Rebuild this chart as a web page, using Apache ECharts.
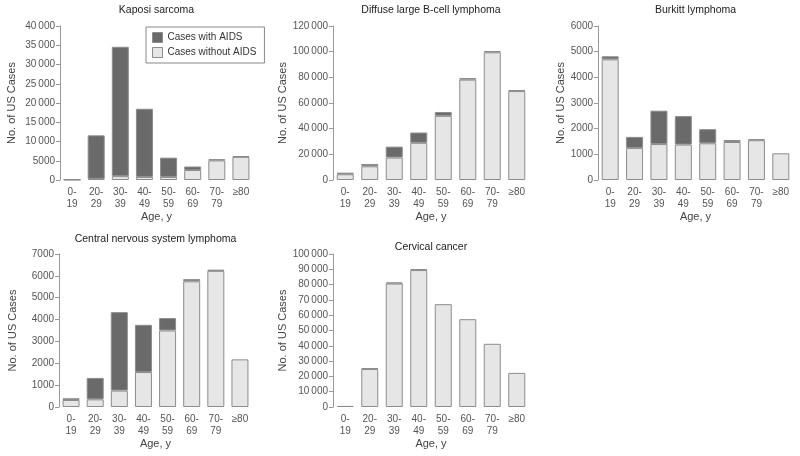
<!DOCTYPE html>
<html>
<head>
<meta charset="utf-8">
<script src="https://cdn.jsdelivr.net/npm/echarts@6/dist/echarts.min.js"></script>
<style>html,body{margin:0;padding:0;background:#fff}#c{width:800px;height:456px}</style>
</head>
<body>
<div id="c"></div>
<script>
const categories = ['0-\n19','20-\n29','30-\n39','40-\n49','50-\n59','60-\n69','70-\n79','≥80'];
const panelTitles = ['Kaposi sarcoma','Diffuse large B-cell lymphoma','Burkitt lymphoma','Central nervous system lymphoma','Cervical cancer'];
const seriesNames = ['Cases with AIDS','Cases without AIDS'];

const kaposiWithout = [50, 300, 1000, 800, 800, 2600, 5100, 6000];
const kaposiWith    = [150, 11300, 33600, 17700, 5000, 900, 300, 200];
const dlbclWithout  = [4500, 10700, 17500, 29000, 50000, 78200, 99500, 69300];
const dlbclWith     = [1200, 1800, 8500, 8000, 3000, 1200, 1000, 800];
const burkittWithout= [4700, 1250, 1400, 1380, 1430, 1480, 1550, 1040];
const burkittWith   = [120, 430, 1300, 1110, 550, 80, 40, null];
const cnsWithout    = [320, 350, 750, 1600, 3500, 5750, 6230, 2180];
const cnsWith       = [80, 980, 3590, 2160, 570, 100, 50, null];
const cervWithout   = [700, 24800, 80700, 89500, 67200, 57400, 41300, 22300];
const cervWith      = [null, 600, 700, 600, null, null, null, null];

const yMaxes = [40000, 120000, 6000, 7000, 100000];
const yIntervals = [5000, 20000, 1000, 1000, 10000];

const panels = [
  {without: kaposiWithout, with: kaposiWith},
  {without: dlbclWithout, with: dlbclWith},
  {without: burkittWithout, with: burkittWith},
  {without: cnsWithout, with: cnsWith},
  {without: cervWithout, with: cervWith}
];

const layout = [
  {left: 60, top: 26, width: 193, height: 154, nameGap: 43, titleTop: 5},
  {left: 333, top: 26, width: 196, height: 154, nameGap: 39, titleTop: 5},
  {left: 598, top: 26, width: 195, height: 154, nameGap: 27, titleTop: 5},
  {left: 59, top: 254, width: 193, height: 153, nameGap: 41, titleTop: 234},
  {left: 333, top: 254, width: 196, height: 153, nameGap: 39, titleTop: 242}
];

const FONT = '"Liberation Sans", Arial, sans-serif';
const DARK = '#6a6a6a', LIGHT = '#e6e6e6', BORDER = '#8c8c8c';

function fmt(v){
  if (v >= 10000) { const s = String(v); return s.slice(0, s.length-3) + '\u2009' + s.slice(-3); }
  return String(v);
}

const grid = [], xAxis = [], yAxis = [], series = [], title = [];
layout.forEach((L, i) => {
  grid.push({left: L.left, top: L.top, width: L.width, height: L.height});
  title.push({text: panelTitles[i], left: L.left + L.width/2, top: L.titleTop, textAlign: 'center', padding: 0,
    textStyle: {fontFamily: FONT, fontSize: 10.5, fontWeight: 'normal', color: '#222'}});
  xAxis.push({type: 'category', gridIndex: i, data: categories,
    name: 'Age, y', nameLocation: 'middle', nameGap: 31,
    nameTextStyle: {fontFamily: FONT, fontSize: 11, color: '#444'},
    axisLine: {show: false}, axisTick: {show: false},
    axisLabel: {fontFamily: FONT, fontSize: 10, color: '#555', lineHeight: 12, margin: 6, interval: 0}});
  yAxis.push({type: 'value', gridIndex: i, min: 0, max: yMaxes[i], interval: yIntervals[i],
    name: 'No. of US Cases', nameLocation: 'middle', nameGap: L.nameGap,
    nameTextStyle: {fontFamily: FONT, fontSize: 11, color: '#444'},
    axisLine: {show: true, lineStyle: {color: '#999', width: 1}},
    axisTick: {show: true, length: 4, lineStyle: {color: '#999'}},
    splitLine: {show: false},
    axisLabel: {fontFamily: FONT, fontSize: 10, color: '#555', margin: 5, formatter: fmt}});
  series.push({type: 'bar', name: seriesNames[1], xAxisIndex: i, yAxisIndex: i, stack: 's' + i,
    data: panels[i].without, barWidth: 17,
    itemStyle: {color: LIGHT, borderColor: BORDER, borderWidth: 1}});
  series.push({type: 'bar', name: seriesNames[0], xAxisIndex: i, yAxisIndex: i, stack: 's' + i,
    data: panels[i].with, barWidth: 17,
    itemStyle: {color: DARK, borderColor: BORDER, borderWidth: 1}});
});

const chart = echarts.init(document.getElementById('c'), null, {renderer: 'canvas'});
chart.setOption({
  animation: false,
  backgroundColor: '#fff',
  title: title,
  legend: {data: seriesNames, orient: 'vertical', left: 146, top: 27, width: 106,
    icon: 'rect', itemWidth: 10, itemHeight: 10, itemGap: 4, padding: [5, 8, 5, 6],
    borderColor: '#888', borderWidth: 1, borderRadius: 0,
    textStyle: {fontFamily: FONT, fontSize: 10, color: '#333'},
    itemStyle: {borderColor: BORDER, borderWidth: 1}},
  grid: grid, xAxis: xAxis, yAxis: yAxis, series: series
});
</script>
</body>
</html>
